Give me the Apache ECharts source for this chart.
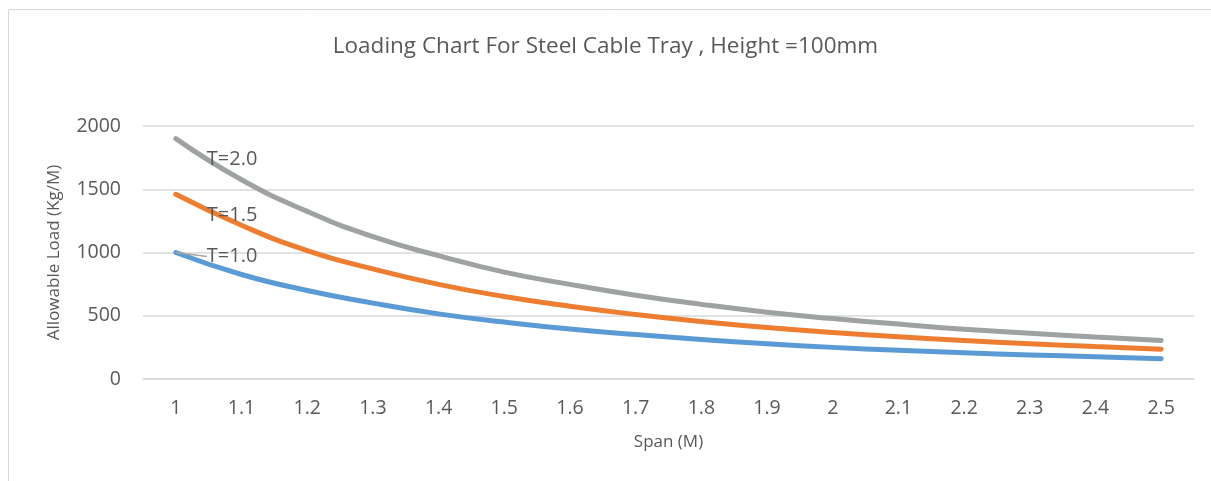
<!DOCTYPE html>
<html>
<head>
<meta charset="utf-8">
<script src="https://cdn.jsdelivr.net/npm/echarts@6/dist/echarts.min.js"></script>
<style>html,body{margin:0;padding:0;background:#fff}#c{width:1211px;height:481px}</style>
</head>
<body>
<div id="c"></div>
<script>
const spans = ['1','1.1','1.2','1.3','1.4','1.5','1.6','1.7','1.8','1.9','2','2.1','2.2','2.3','2.4','2.5'];
const loadT10 = [1000, 826, 700, 600, 515, 450, 395, 352, 312, 278, 250, 227, 207, 190, 176, 160];
const loadT15 = [1460, 1215, 1015, 870, 748, 652, 575, 510, 455, 407, 368, 334, 304, 279, 256, 235];
const loadT20 = [1900, 1575, 1325, 1125, 975, 845, 748, 662, 590, 528, 478, 434, 393, 362, 332, 305];
const seriesNames = ['T=1.0', 'T=1.5', 'T=2.0'];
const yTicks = [0, 500, 1000, 1500, 2000];

const FONT = '"Open Sans", Lato, sans-serif';
const TXT = '#595959';

function withLabel(arr, name) {
  return arr.map((v, i) => i === 0 ? {value: v, label: {show: true, formatter: name}} : v);
}
function mk(name, arr, color, dy, leader) {
  return {
    name: name, type: 'line', smooth: 0.5,
    symbol: 'circle', symbolSize: 0.01, showSymbol: true,
    data: withLabel(arr, name),
    lineStyle: {color: color, width: 5, cap: 'round', join: 'round'},
    itemStyle: {color: color},
    label: {show: false, position: 'right', distance: 0, color: TXT, fontSize: 20, fontFamily: FONT},
    labelLayout: {dx: 31, dy: dy},
    labelLine: {show: leader, lineStyle: {color: '#a5a5a5', width: 1.5}},
    z: 2
  };
}

const chart = echarts.init(document.getElementById('c'), null, {renderer: 'canvas'});
chart.setOption({
  animation: false,
  backgroundColor: '#fff',
  title: {
    text: 'Loading Chart For Steel Cable Tray , Height =100mm',
    left: 'center', top: 35, padding: 0,
    textStyle: {color: TXT, fontSize: 22.5, fontWeight: 'normal', fontFamily: FONT}
  },
  graphic: [{
    type: 'rect', shape: {x: 8.5, y: 9.5, width: 1400, height: 700},
    style: {fill: 'none', stroke: '#d9d9d9', lineWidth: 1}, silent: true, z: -1
  }],
  grid: {left: 143, right: 17, top: 126, bottom: 102, containLabel: false},
  xAxis: {
    type: 'category', data: spans, boundaryGap: true,
    name: 'Span (M)', nameLocation: 'middle', nameGap: 55,
    nameTextStyle: {color: TXT, fontSize: 17, fontFamily: FONT},
    axisLine: {show: true, lineStyle: {color: '#d9d9d9', width: 1.5}},
    axisTick: {show: false},
    axisLabel: {color: TXT, fontSize: 19.5, fontFamily: FONT, margin: 19}
  },
  yAxis: {
    type: 'value', min: yTicks[0], max: yTicks[yTicks.length - 1], interval: 500,
    name: 'Allowable Load (Kg/M)', nameLocation: 'middle', nameGap: 80,
    nameTextStyle: {color: TXT, fontSize: 17, fontFamily: FONT},
    axisLine: {show: false}, axisTick: {show: false},
    splitLine: {lineStyle: {color: '#d9d9d9', width: 1.5}},
    axisLabel: {color: TXT, fontSize: 19.5, fontFamily: FONT, margin: 22, formatter: v => String(v)}
  },
  series: [
    mk(seriesNames[0], loadT10, '#5B9BD5', 4, true),
    mk(seriesNames[1], loadT15, '#ED7D31', 21, false),
    mk(seriesNames[2], loadT20, '#9FA2A2', 21, false)
  ]
});
</script>
</body>
</html>
